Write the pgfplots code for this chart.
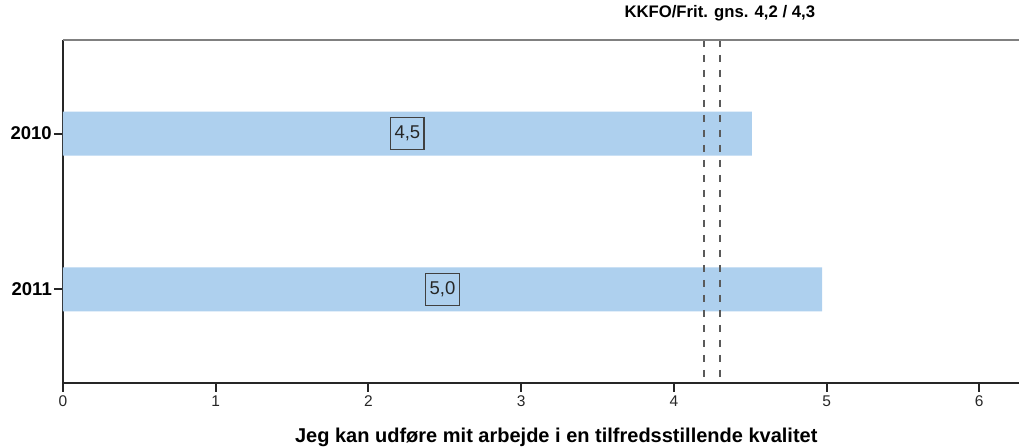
\documentclass[border=0pt]{standalone}
\usepackage{fontspec}
\setmainfont{Liberation Sans}
\usepackage{pgfplots}
\usepackage{pgfplotstable}
\pgfplotsset{compat=1.18}

\definecolor{barblue}{RGB}{174,208,238}
\definecolor{refgray}{RGB}{90,90,90}

% pos on the y axis, year, mean score
\pgfplotstableread{
pos year value
1 2010 4.51
2 2011 4.97
}\scores

\begin{document}
\begin{tikzpicture}
\begin{axis}[
    width=956pt, height=343pt, scale only axis,
    xmin=0, xmax=6.26, ymin=0.4, ymax=2.6,
    y dir=reverse,
    axis x line*=bottom, axis y line*=left,
    axis line style={black!85, line width=2pt},
    xtick={0,1,2,3,4,5,6},
    ytick={1,2}, yticklabels={2010,2011},
    tick align=outside, major tick length=9pt,
    tick style={black!85, line width=2pt},
    /pgf/number format/assume math mode=true,
    x tick label style={font=\fontsize{15.5}{18}\selectfont, text=black!85},
    y tick label style={font=\fontsize{18.5}{21}\selectfont\bfseries, inner xsep=2pt},
    xlabel={Jeg kan udføre mit arbejde i en tilfredsstillende kvalitet},
    xlabel style={font=\fontsize{20}{23}\selectfont\bfseries,
        at={(0.516,0)}, anchor=base, yshift=-60pt},
    title={KKFO/Frit. gns. 4,2 / 4,3},
    title style={font=\fontsize{16.7}{19}\selectfont\bfseries,
        at={(0.687,1)}, anchor=base, yshift=16pt},
    clip=false,
]
\addplot[xbar, fill=barblue, draw=none, bar width=44pt]
    table[x=value, y=pos] {\scores};

\addplot[refgray, line width=2pt, dash pattern=on 7pt off 8pt]
    coordinates {(4.2,0.4) (4.2,2.6)};
\addplot[refgray, line width=2pt, dash pattern=on 7pt off 8pt]
    coordinates {(4.3,0.4) (4.3,2.6)};

% value labels in the middle of each bar
\addplot[only marks, mark=none,
    point meta=\thisrow{value},
    nodes near coords={\pgfmathprintnumber[fixed, fixed zerofill, precision=1, use comma]{\pgfplotspointmeta}},
    every node near coord/.style={anchor=center, draw=black!75, line width=1.5pt,
        text=black!85, font=\fontsize{18.5}{21}\selectfont,
        inner xsep=4pt, minimum height=32pt}]
    table[x expr=\thisrow{value}/2, y=pos] {\scores};
\end{axis}
\draw[gray, line width=2pt] (current axis.north west) -- (current axis.north east);
\pgfresetboundingbox
\path[use as bounding box] ([xshift=-63pt, yshift=-65pt]current axis.south west)
    rectangle ([yshift=40pt]current axis.north east);
\end{tikzpicture}
\end{document}
